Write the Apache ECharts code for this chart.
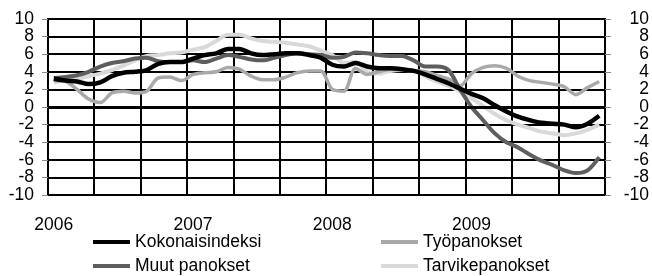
<!DOCTYPE html>
<html>
<head>
<meta charset="utf-8">
<script src="https://cdn.jsdelivr.net/npm/echarts@6/dist/echarts.min.js"></script>
<style>
	html, body { margin: 0; padding: 0; background: #fff; }
	#lineChart { width: 652px; height: 276px; }
</style>
</head>
<body>
<div id="lineChart"></div>
<script>
// vuodet ja kuukaudet (x-akseli)
var years = [ '2006', '2007', '2008', '2009' ];
var months = [];
for (var y = 0; y < years.length; y++) {
	for (var m = 1; m <= 12; m++) {
		months.push(years[y] + '-' + (m < 10 ? '0' + m : m));
	}
}

// y-akselin asteikko
var yMin = -10;
var yMax = 10;
var yStep = 2;
// pystyviivat 4 kk välein
var monthStep = 4;

// sarjojen nimet
var legendData = [ 'Kokonaisindeksi', 'Muut panokset', 'Työpanokset', 'Tarvikepanokset' ];

// vuosimuutos %, kuukausittain 1/2006 - 12/2009
var kokonaisData = [ 3.2, 3.0, 2.9, 2.6, 2.8, 3.5, 3.9, 4.0, 4.2, 4.9, 5.1, 5.1,
		5.5, 5.9, 6.1, 6.6, 6.6, 6.1, 5.9, 6.0, 6.1, 6.1, 5.9, 5.6,
		4.8, 4.6, 5.0, 4.6, 4.4, 4.4, 4.3, 4.1, 3.7, 3.2, 2.7, 2.1,
		1.5, 1.0, 0.2, -0.5, -1.1, -1.5, -1.8, -1.9, -2.0, -2.3, -1.9, -1.0 ];
var muutData = [ 3.3, 3.4, 3.6, 4.0, 4.6, 5.0, 5.2, 5.5, 5.6, 5.2, 5.1, 5.1,
		5.3, 5.1, 5.5, 5.9, 5.7, 5.4, 5.3, 5.6, 5.9, 6.1, 6.0, 5.9,
		5.6, 5.7, 6.2, 6.1, 5.9, 5.8, 5.8, 5.3, 4.6, 4.6, 4.2, 2.0,
		0.0, -1.5, -3.0, -4.0, -4.6, -5.4, -6.1, -6.6, -7.2, -7.5, -7.2, -5.7 ];
var tyoData = [ 3.0, 2.9, 2.0, 0.9, 0.5, 1.6, 1.8, 1.6, 1.8, 3.3, 3.4, 3.0,
		3.7, 3.9, 4.0, 4.5, 4.3, 3.5, 3.1, 3.1, 3.4, 3.9, 4.1, 4.1,
		2.0, 1.8, 4.4, 3.7, 4.0, 4.3, 4.2, 4.1, 4.0, 3.6, 3.2, 2.4,
		3.8, 4.5, 4.7, 4.4, 3.5, 3.0, 2.8, 2.6, 2.3, 1.4, 2.2, 2.9 ];
var tarvikeData = [ 2.8, 3.1, 3.2, 3.5, 3.8, 4.2, 4.7, 5.3, 5.8, 5.9, 6.1, 6.2,
		6.5, 6.8, 7.5, 8.2, 8.2, 7.8, 7.5, 7.4, 7.3, 7.1, 6.9, 6.4,
		5.9, 5.0, 5.1, 4.0, 3.8, 4.1, 4.2, 4.2, 3.5, 2.9, 2.4, 1.8,
		1.0, 0.1, -0.8, -1.5, -2.0, -2.4, -2.8, -3.0, -3.2, -3.0, -2.6, -2.0 ];

var colors = [ '#000000', '#5e5e5e', '#a9a9a9', '#d9d9d9' ];

var myChart = echarts.init(document.getElementById('lineChart'));

var fontFamily = '"Liberation Sans", Arial, sans-serif';
var textStyle = { color : '#000', fontSize : 17.5, fontFamily : fontFamily };

// akseli jolla vain tekstit; joka toinen luku omalla akselillaan,
// muuten v6 piilottaa päällekkäiset tekstit
function yLabelAxis(pos, odd) {
	return {
		type : 'value',
		position : pos,
		min : yMin,
		max : yMax,
		interval : yStep,
		axisLine : { show : false },
		axisTick : { show : false },
		axisLabel : {
			color : '#000',
			fontSize : 17.5,
			fontFamily : fontFamily,
			margin : pos == 'left' ? 14 : 44,
			align : 'right',
			showMinLabel : true,
			showMaxLabel : true,
			formatter : function(v) {
				var k = Math.round((v - yMin) / yStep);
				return (k % 2 == 1) == odd ? String(v) : '';
			}
		},
		splitLine : { show : false }
	};
}

// akseli jolla vain viivat ja tikit
function yLineAxis(pos, grid) {
	return {
		type : 'value',
		position : pos,
		min : yMin,
		max : yMax,
		interval : yStep,
		axisLine : { show : false },
		axisTick : { show : true, inside : false, length : 6, lineStyle : { color : '#888', width : 1 } },
		axisLabel : { show : false },
		splitLine : { show : grid, lineStyle : { color : '#000', width : 2 } }
	};
}

function lineSeries(name, data, color, width) {
	return {
		name : name,
		type : 'line',
		data : data,
		smooth : 0.3,
		showSymbol : false,
		symbol : 'none',
		itemStyle : { color : color },
		lineStyle : { color : color, width : width },
		z : 3
	};
}

var series = [
	lineSeries(legendData[3], tarvikeData, colors[3], 4),
	lineSeries(legendData[2], tyoData, colors[2], 3.5),
	lineSeries(legendData[1], muutData, colors[1], 4),
	lineSeries(legendData[0], kokonaisData, colors[0], 4.5)
];
// nollaviiva paksumpana
series[0].markLine = {
	silent : true,
	symbol : [ 'none', 'none' ],
	label : { show : false },
	lineStyle : { color : '#000', width : 3, type : 'solid' },
	data : [ { yAxis : 0 } ]
};

function legendConf(left, names) {
	return {
		orient : 'vertical',
		left : left,
		top : 233,
		height : 60,
		itemWidth : 37,
		itemHeight : 4,
		itemGap : 6,
		padding : 0,
		icon : 'rect',
		textStyle : textStyle,
		data : names
	};
}

var option = {
	animation : false,
	backgroundColor : '#fff',
	grid : { left : 48, right : 46, top : 19, bottom : 81, show : true, borderColor : '#000', borderWidth : 2 },
	legend : [ legendConf(93, [ legendData[0], legendData[1] ]), legendConf(381, [ legendData[2], legendData[3] ]) ],
	xAxis : {
		type : 'category',
		boundaryGap : true,
		data : months,
		axisLine : { show : false },
		axisTick : { show : false },
		axisLabel : {
			interval : 11,
			margin : 21,
			color : '#000',
			fontSize : 17.5,
			fontFamily : fontFamily,
			formatter : function(v) { return String(v).substring(0, 4); }
		},
		splitLine : { show : false }
	},
	yAxis : [ yLabelAxis('left', false), yLabelAxis('left', true), yLabelAxis('right', false), yLabelAxis('right', true),
			yLineAxis('left', true), yLineAxis('right', false) ],
	series : series
};

myChart.setOption(option);

// pystyviivat kuukausien rajoille: paikat akselilta convertToPixel:llä
var yTop = myChart.convertToPixel({ yAxisIndex : 4 }, yMax);
var yBottom = myChart.convertToPixel({ yAxisIndex : 4 }, yMin);
var vLines = [];
for (var i = monthStep; i < months.length; i += monthStep) {
	var xa = myChart.convertToPixel({ xAxisIndex : 0 }, months[i - 1]);
	var xb = myChart.convertToPixel({ xAxisIndex : 0 }, months[i]);
	var x = Math.round((xa + xb) / 2);
	if (isNaN(x) || isNaN(yTop) || isNaN(yBottom)) {
		continue;
	}
	vLines.push({
		type : 'line',
		silent : true,
		z : 1,
		shape : { x1 : x, y1 : yTop, x2 : x, y2 : yBottom },
		style : { stroke : '#000', lineWidth : 2 }
	});
}
myChart.setOption({ graphic : { elements : vLines } });
</script>
</body>
</html>
